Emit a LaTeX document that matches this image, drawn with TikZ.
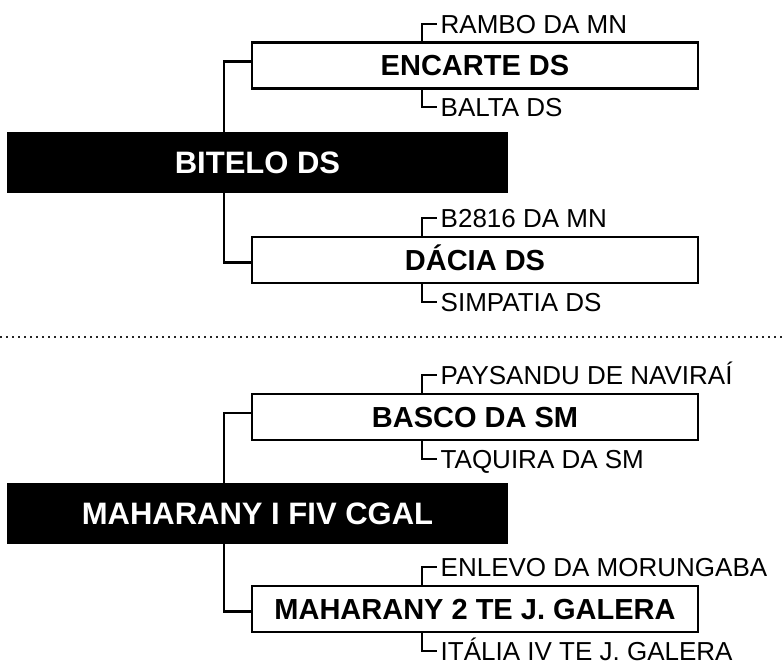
\documentclass[tikz,border=0pt]{standalone}
\usepackage{fontspec}
\setmainfont{Liberation Sans}

\tikzstyle{calf}=[fill=black,text=white,font=\fontsize{31}{36}\selectfont\bfseries,minimum width=501pt,minimum height=61pt,inner sep=0pt,text height=22pt,text depth=0pt]
\tikzstyle{parentbox}=[draw,line width=2.5pt,fill=white,font=\fontsize{29}{34}\selectfont\bfseries,minimum width=446pt,minimum height=46pt,inner sep=0pt,text height=21pt,text depth=0pt]
\tikzstyle{grandname}=[font=\fontsize{26}{30}\selectfont,inner sep=0pt,anchor=west,text height=18.6pt,text depth=0pt]
\tikzstyle{link} = [draw,line width=2.5pt]
\tikzstyle{bracket} = [draw,line width=2pt]
\tikzstyle{divider} = [draw,line width=1.5pt,dash pattern=on 1.5pt off 4.5pt,black!85]
\newcommand{\pxscale}{1pt}

\begin{document}
\begin{tikzpicture}[x=\pxscale, y=\pxscale]
    \useasboundingbox (0,0) rectangle (783,664);
    % First we draw the animals and their parents
    \foreach \pos/\name/\txt in {{(257.5,501.5)/bitelo/BITELO DS}, {(257.5,150.5)/maharany/MAHARANY I FIV CGAL}}
        \node[calf] (\name) at \pos {\txt};
    \foreach \pos/\name/\txt in {{(475,598.5)/encarte/ENCARTE DS}, {(475,404)/dacia/DÁCIA DS}, {(475,247)/basco/BASCO DA SM}, {(475,55)/maharanytwo/MAHARANY 2 TE J. GALERA}}
        \node[parentbox] (\name) at \pos {\txt};
    % Connect each animal with its parents
    \foreach \kid/\up/\down in {bitelo/encarte/dacia, maharany/basco/maharanytwo} {
        \path[link] ([xshift=217pt]\kid.north west) |- ([yshift=4pt]\up.west);
        \path[link] ([xshift=217pt]\kid.south west) |- ([yshift=-2.5pt]\down.west);
    }
    % Grandparents above the parent boxes
    \foreach \pa/\name/\txt in {encarte/rambo/RAMBO DA MN, dacia/btwo/B2816 DA MN, basco/paysandu/PAYSANDU DE NAVIRAÍ, maharanytwo/enlevo/ENLEVO DA MORUNGABA} {
        \node[grandname] (\name) at ([xshift=-34.5pt,yshift=17.5pt]\pa.north) {\txt};
        \path[bracket] ([xshift=-18.5pt]\name.west |- \pa.north) |- ([xshift=-3.5pt]\name.west);
    }
    % ... and below them
    \foreach \pa/\name/\txt in {encarte/balta/BALTA DS, dacia/simpatia/SIMPATIA DS, basco/taquira/TAQUIRA DA SM, maharanytwo/italia/ITÁLIA IV TE J. GALERA} {
        \node[grandname] (\name) at ([xshift=-34.5pt,yshift=-17.5pt]\pa.south) {\txt};
        \path[bracket] ([xshift=-18.5pt]\name.west |- \pa.south) |- ([xshift=-3.5pt]\name.west);
    }
    % Dotted line between the two pedigrees
    \coordinate (divl) at (0,327);
    \coordinate (divr) at (783,327);
    \path[divider] (divl) -- (divr);
\end{tikzpicture}
\end{document}
